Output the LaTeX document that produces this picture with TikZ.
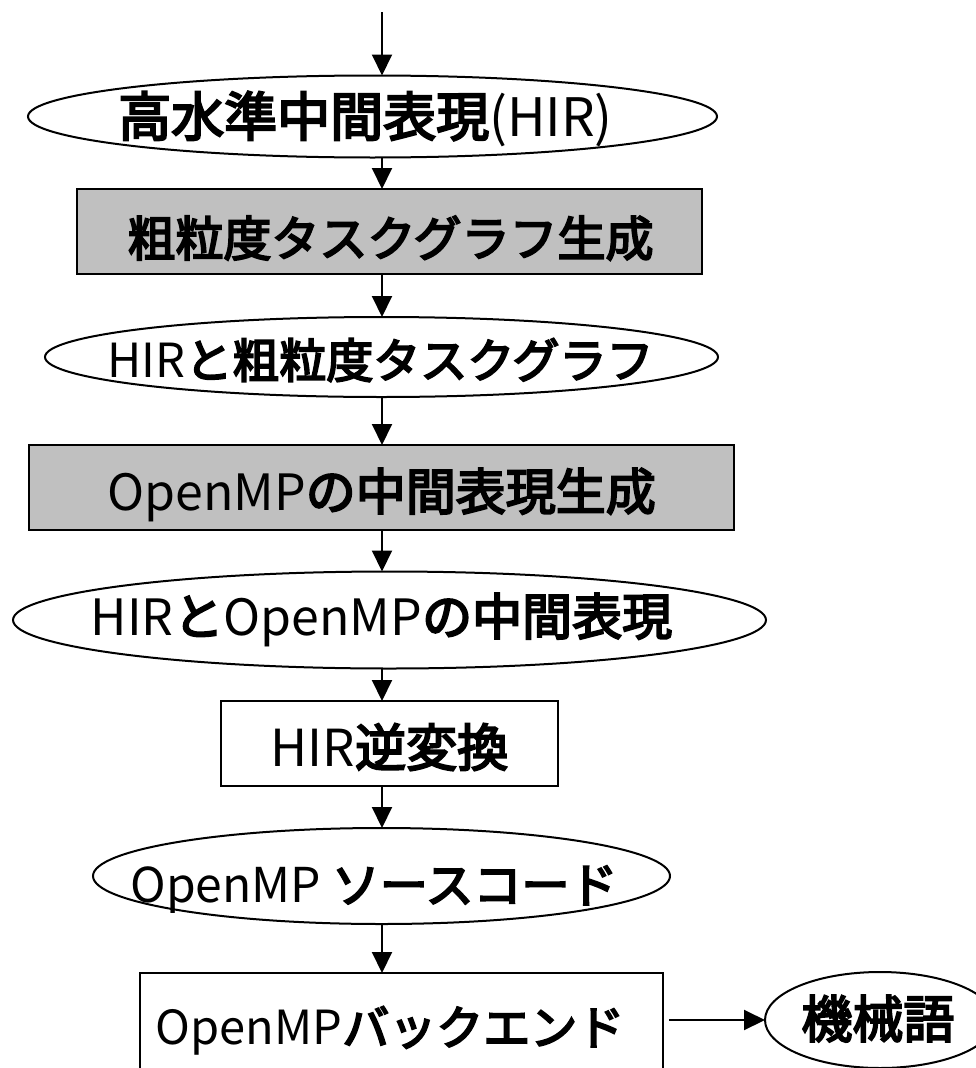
\documentclass[tikz,border=0pt]{standalone}
\usepackage{fontspec}
\setmainfont{Noto Sans CJK JP}
\newfontfamily\jpm[FakeBold=4]{Noto Sans CJK JP}
\newcommand\jm[1]{{\jpm #1}}
\usetikzlibrary{arrows.meta,shapes.geometric}
\definecolor{boxgray}{RGB}{192,192,192}
\newcommand\tx[3]{\makebox[0pt]{\hspace*{\dimexpr(#1)*2\relax}\raisebox{\dimexpr(#2)-0.37em\relax}[0pt][0pt]{#3}}}
\begin{document}
\begin{tikzpicture}[x=1pt,y=-1pt,
  every node/.style={inner sep=0pt, outer sep=0pt},
  bx/.style={draw, line width=2pt, rectangle},
  gbx/.style={bx, fill=boxgray},
  el/.style={draw, line width=2pt, ellipse, fill=white},
  arr/.style={line width=2pt, -{Triangle[length=21pt,width=20pt]}},
  fs/.style={font=\fontsize{#1}{#1}\selectfont},
]
\useasboundingbox (0,0) rectangle (976,1068);
\clip (0,0) rectangle (976,1068);

\coordinate (in) at (382,12);

\node[el, minimum width=689pt, minimum height=82pt, fs=53] (e1) at (372.5,116.5)
  {\tx{-7pt}{0pt}{\jm{高水準中間表現}(HIR)}};
\node[gbx, minimum width=625pt, minimum height=85pt, fs=48] (b1) at (389.5,231.5)
  {\tx{1pt}{-7pt}{\jm{粗粒度タスクグラフ生成}}};
\node[el, minimum width=673pt, minimum height=80pt, fs=47] (e2) at (381.5,357)
  {\tx{-1pt}{-3.5pt}{HIR\jm{と粗粒度タスクグラフ}}};
\node[gbx, minimum width=705pt, minimum height=85pt, fs=50] (b2) at (381.5,487.5)
  {\tx{0pt}{-4pt}{OpenMP\jm{の中間表現生成}}};
\node[el, minimum width=753pt, minimum height=97pt, fs=50] (e3) at (389.5,620)
  {\tx{-8pt}{3.5pt}{HIR\jm{と}OpenMP\jm{の中間表現}}};
\node[bx, minimum width=337pt, minimum height=85pt, fs=51] (b3) at (389.5,743.5)
  {\tx{0pt}{-4pt}{HIR\jm{逆変換}}};
\node[el, minimum width=577pt, minimum height=96pt, fs=48] (e4) at (381.5,876)
  {\tx{-7.5pt}{-9pt}{OpenMP \jm{ソースコード}}};
\node[bx, minimum width=523pt, minimum height=109pt, fs=47] (b4) at (401.5,1027.5)
  {\tx{-11.5pt}{0pt}{OpenMP\jm{バックエンド}}};
\node[el, minimum width=230pt, minimum height=96pt, fs=51] (m) at (880,1020)
  {\tx{-2pt}{1pt}{\jm{機械語}}};

\draw[arr] (in) -- (in |- e1.north);
\draw[arr] (in |- e1.south) -- (in |- b1.north);
\draw[arr] (in |- b1.south) -- (in |- e2.north);
\draw[arr] (in |- e2.south) -- (in |- b2.north);
\draw[arr] (in |- b2.south) -- (in |- e3.north);
\draw[arr] (in |- e3.south) -- (in |- b3.north);
\draw[arr] (in |- b3.south) -- (in |- e4.north);
\draw[arr] (in |- e4.south) -- (in |- b4.north);
\draw[arr] ([xshift=6pt]b4.east |- m.west) -- (m.west);
\end{tikzpicture}
\end{document}
